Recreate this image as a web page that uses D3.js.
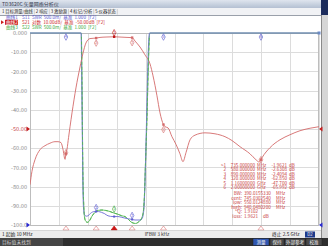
<!DOCTYPE html>
<html><head><meta charset="utf-8">
<script src="https://cdn.jsdelivr.net/npm/d3@7"></script>
<style>body{margin:0;background:#fff;overflow:hidden}svg{display:block}text{font-family:"Noto Sans CJK SC","DejaVu Sans",sans-serif}</style>
</head><body><svg id="c" width="328" height="246"></svg>
<script>
// ---------- data ----------
const startMHz = 10, stopMHz = 2500;
const yTicks = [0,-10,-20,-30,-40,-50,-60,-70,-80,-90,-100];
const yTickLabels = ["0.000","-10.00","-20.00","-30.00","-40.00","-50.00","-60.00","-70.00","-80.00","-90.00","-100.0"];
const xTicks = [10,259,508,757,1006,1255,1504,1753,2002,2251,2500];

// trace 2: S21 log mag (dB)
const s21Freq = [10,27,53,96,139,182,225,251,277,294,312,320,329,342,355,372,406,441,467,492,527,580,613,665,735,785,846,890,915,958,1001,1044,1070,1104,1130,1160,1173,1199,1233,1268,1302,1328,1354,1389,1432,1518,1604,1690,1750,1819,1905,1957,1985,2000,2009,2078,2164,2250,2336,2423,2500];
const s21dB = [-79,-72,-66,-60.8,-58.7,-57.4,-56.6,-56.6,-57.1,-60.5,-65.8,-62.85,-60.5,-54.5,-48.8,-41.6,-28.6,-17.7,-10.4,-5.2,-2.9,-2.63,-2.3,-2.1,-1.96,-2.1,-2.3,-2.41,-4.2,-7.3,-11.4,-16.1,-22.3,-32.7,-41.6,-47.7,-48.8,-49.4,-54,-58,-62.9,-67.0,-62.3,-55.6,-53.2,-52,-52.5,-54,-56,-59.2,-62.9,-66,-67.2,-65.99,-65,-59.7,-55.6,-53,-50.9,-49.6,-48.8];

// trace 1: S11 VSWR (display clamps at top = 6.0)
const s11Freq = [10,450,455,460,465,470,478,484,495,510,530,550,570,600,625,650,682,725,768,800,828,860,880,915,958,975,984,992,1000,1010,1020,1030,1040,2500];
const s11Swr  = [6.0,6.0,5.0,3.6,2.2,1.5,1.28,1.25,1.23,1.24,1.30,1.34,1.35,1.35,1.33,1.30,1.24,1.22,1.22,1.20,1.18,1.16,1.15,1.13,1.13,1.16,1.25,1.45,2.0,3.2,4.5,5.6,6.0,6.0];

// trace 3: S22 VSWR
const s22Freq = [10,452,457,462,467,472,480,490,505,520,544,570,600,630,660,700,725,768,800,828,860,880,900,920,945,965,984,995,1005,1018,1030,1042,2500];
const s22Swr  = [6.0,6.0,5.0,3.4,2.1,1.6,1.2,1.1,1.07,1.1,1.23,1.33,1.38,1.39,1.38,1.35,1.32,1.28,1.24,1.22,1.14,1.08,1.05,1.04,1.08,1.14,1.3,1.7,2.6,3.8,5.2,6.0,6.0];

// markers
const markerIds = [1,2,3,4,5,6];
const markerFreqs = [735,580,890,320,1160,2000];
const markerS21 = [-1.9621,-2.6308,-2.4094,-62.850,-47.700,-65.992];
const markerFreqText = ["735.000000","580.000000","890.000000","320.000000","1.16000000","2.00000000"];
const markerUnits = ["MHz","MHz","MHz","MHz","GHz","GHz"];
const markerValText = ["-1.9621","-2.6308","-2.4094","-62.850","-47.700","-65.992"];
const filterLabels = ["BW:","cent:","low:","high:","Q:","loss:"];
const filterValues = ["390.0155330","745.0302540","550.0124880","940.0480200","1.9102","1.9621"];
const filterUnits = ["MHz","MHz","MHz","MHz","","dB"];

const menuItems = ["1 目标测量/曲线","2 响应","3 激励源","4 标记/分析","5 仪器状态"];
const traceHeaders = [
  {name:"曲线1", text:"S11  SWR  500.0m/  基准  1.000  [F2]", color:"#5a5ad0"},
  {name:"曲线2", text:"S21  对数  10.00dB/  基准  -50.00dB  [F2]", color:"#cc2a2a"},
  {name:"曲线3", text:"S22  SWR  500.0m/  基准  1.000  [F2]", color:"#3aa83a"}
];
const softKeys = ["测量","保持","外部参考","校准"];

// ---------- drawing ----------
const svg = d3.select("#c");
const L = 30, R = 319, T = 33, B = 225;
const x = d3.scaleLinear().domain([startMHz, stopMHz]).range([L, R]);
const yDb = d3.scaleLinear().domain([-100, 0]).range([B, T]);
const ySwr = d3.scaleLinear().domain([1, 6]).range([B, T]).clamp(true);

const RED = "#d46a6a", BLUE = "#7878d8", GREEN = "#52b552";

// title bar
const defs = svg.append("defs");
const g1 = defs.append("linearGradient").attr("id","tb").attr("x1",0).attr("y1",0).attr("x2",0).attr("y2",1);
g1.append("stop").attr("offset","0").attr("stop-color","#dfe5ee");
g1.append("stop").attr("offset","1").attr("stop-color","#b4c0d2");
svg.append("rect").attr("x",0).attr("y",0).attr("width",328).attr("height",8).attr("fill","url(#tb)");
svg.append("text").attr("x",2).attr("y",6).attr("font-size",5).attr("fill","#3a4050").text("TD3620C 矢量网络分析仪");
svg.append("rect").attr("x",0).attr("y",8).attr("width",321).attr("height",7).attr("fill","#f1f2f5");
svg.append("line").attr("x1",0).attr("x2",321).attr("y1",15.5).attr("y2",15.5).attr("stroke","#9aa0aa").attr("stroke-width",1);
let mx0 = 2;
menuItems.forEach((m,i)=>{
  const t = svg.append("text").attr("x",mx0).attr("y",13.3).attr("font-size",4.3).attr("fill","#222").text(m);
  const w = t.node().getComputedTextLength();
  mx0 += w + 3;
  svg.append("line").attr("x1",mx0-1.5).attr("x2",mx0-1.5).attr("y1",9).attr("y2",14.5).attr("stroke","#aaa").attr("stroke-width",0.5);
});
// right strip
svg.append("rect").attr("x",321).attr("y",0).attr("width",7).attr("height",15).attr("fill","#1c2c5c");
svg.append("rect").attr("x",321).attr("y",15).attr("width",7).attr("height",223).attr("fill","#d6d6d6");
svg.append("line").attr("x1",321.5).attr("x2",321.5).attr("y1",15).attr("y2",238).attr("stroke","#8a8a8a").attr("stroke-width",1);

// trace headers
traceHeaders.forEach((h,i)=>{
  const by = 19 + i*5;
  if(i===1){
    svg.append("rect").attr("x",5).attr("y",by-4.2).attr("width",13).attr("height",5).attr("fill","#cc2020");
    svg.append("path").attr("d",`M1,${by-3.8}L4,${by-1.8}L1,${by+0.2}Z`).attr("fill","#cc2020");
  }
  svg.append("text").attr("x",6).attr("y",by).attr("font-size",4.6).attr("fill", i===1?"#fff":h.color).text(h.name);
  svg.append("text").attr("x",22).attr("y",by).attr("font-size",4.6).attr("fill",h.color).attr("xml:space","preserve").style("white-space","pre").text(h.text);
});

// grid
const grid = svg.append("g");
grid.selectAll("line.h").data(yTicks).join("line")
  .attr("x1",L).attr("x2",R).attr("y1",d=>Math.round(yDb(d))+0.5).attr("y2",d=>Math.round(yDb(d))+0.5)
  .attr("stroke","#dcdcdc").attr("stroke-width",1);
grid.selectAll("line.v").data(xTicks).join("line")
  .attr("y1",T).attr("y2",B).attr("x1",d=>Math.round(x(d))+0.5).attr("x2",d=>Math.round(x(d))+0.5)
  .attr("stroke","#dcdcdc").attr("stroke-width",1);
svg.append("rect").attr("x",L+0.5).attr("y",T+0.5).attr("width",R-L-1).attr("height",B-T).attr("fill","none").attr("stroke","#bdbdbd");

// y axis
const yAxis = d3.axisLeft(yDb).tickValues(yTicks).tickSize(0).tickPadding(2)
  .tickFormat((d,i)=>yTickLabels[i]);
const ya = svg.append("g").attr("transform",`translate(${L-1},0)`).call(yAxis);
ya.select(".domain").remove();
ya.selectAll("text").attr("font-size",5.6).attr("font-family","DejaVu Sans").attr("fill",(d)=>d===-50?"#c84a4a":"#8c8c8c");

// reference triangles
function triR(xx,yy,c){svg.append("path").attr("d",`M${xx-3.5},${yy-2.5}L${xx},${yy}L${xx-3.5},${yy+2.5}Z`).attr("fill",c);}
function triL(xx,yy,c){svg.append("path").attr("d",`M${xx+3.5},${yy-2.5}L${xx},${yy}L${xx+3.5},${yy+2.5}Z`).attr("fill",c);}
triR(L,yDb(-50),"#c41e1e"); triL(R,yDb(-50),"#c41e1e");
triR(L,ySwr(1),"#2a2ad0"); triL(R,ySwr(1),"#2a2ad0");
svg.append("rect").attr("x",R-1.5).attr("y",T-1.5).attr("width",3).attr("height",3).attr("fill","#6a8ad0");

// traces
const clip = defs.append("clipPath").attr("id","pc");
clip.append("rect").attr("x",L).attr("y",T-1).attr("width",R-L).attr("height",B-T+2);
const clip2 = defs.append("clipPath").attr("id","pc2");
clip2.append("rect").attr("x",L).attr("y",T+3).attr("width",R-L).attr("height",B-T);
const tr = svg.append("g").attr("clip-path","url(#pc)");
const lineDb = d3.line().x(d=>x(d[0])).y(d=>yDb(d[1])).curve(d3.curveMonotoneX);
const lineSwr = d3.line().x(d=>x(d[0])).y(d=>ySwr(d[1])).curve(d3.curveMonotoneX);
const s11 = s11Freq.map((f,i)=>[f,s11Swr[i]]);
const s22 = s22Freq.map((f,i)=>[f,s22Swr[i]]);
const s21 = s21Freq.map((f,i)=>[f,s21dB[i]]);
tr.append("path").datum(s22).attr("d",lineSwr).attr("fill","none").attr("stroke",GREEN).attr("stroke-width",0.9);
tr.append("path").datum(s11).attr("d",lineSwr).attr("fill","none").attr("stroke",BLUE).attr("stroke-width",1);
svg.append("g").attr("clip-path","url(#pc2)").append("path").datum(s22).attr("d",lineSwr).attr("fill","none")
  .attr("stroke",GREEN).attr("stroke-width",0.9).attr("stroke-dasharray","3,2");
tr.append("path").datum(s21).attr("d",lineDb).attr("fill","none").attr("stroke",RED).attr("stroke-width",0.9);

// marker helpers
function interp(fs,vs,f){ const i = d3.bisectLeft(fs,f); if(i<=0) return vs[0]; if(i>=fs.length) return vs[vs.length-1];
  const t=(f-fs[i-1])/(fs[i]-fs[i-1]); return vs[i-1]+t*(vs[i]-vs[i-1]); }
function glyph(xx,cy,id,c){
  svg.append("path").attr("d",`M${xx},${cy-3.3}L${xx+1.8},${cy}L${xx},${cy+3.3}L${xx-1.8},${cy}Z`).attr("fill","none").attr("stroke",c).attr("stroke-width",0.6);
  svg.append("text").attr("x",xx).attr("y",cy+1.2).attr("text-anchor","middle").attr("font-size",3.4).attr("font-family","DejaVu Sans").attr("fill",c).text(id);
}
const redGlyphDy = [-4,5,5,-1,5,0];
markerIds.forEach((id,i)=>{
  const mx = x(markerFreqs[i]), my = yDb(markerS21[i]);
  svg.append("rect").attr("x",mx-1.2).attr("y",my-1.2).attr("width",2.4).attr("height",2.4).attr("fill",i===0?"#c01818":RED);
  glyph(mx, my+redGlyphDy[i], id, i===0?"#c01818":RED);
  const vb = interp(s11Freq,s11Swr,markerFreqs[i]);
  const vg = interp(s22Freq,s22Swr,markerFreqs[i]);
  const yb = ySwr(vb), yg = ySwr(vg);
  if(vb>=6){ glyph(mx, T+4, id, "#5a5ad0"); }
  else { glyph(mx, Math.min(yb,yg)-4, id, i===0?"#3aa83a":"#5a5ad0");
    svg.append("rect").attr("x",mx-1).attr("y",yb-1).attr("width",2).attr("height",2).attr("fill","#5a5ad0"); }
  // stimulus triangles at bottom
  svg.append("path").attr("d",`M${mx-3},${B+5}L${mx},${B+1}L${mx+3},${B+5}Z`)
    .attr("fill",i===0?"#c81818":"#fff").attr("stroke",i===0?"#c81818":"#e08a8a").attr("stroke-width",0.7);
});

// marker table
const tbl = svg.append("g").attr("font-family","DejaVu Sans Mono").attr("font-size",4.6).attr("fill","#c83c3c");
markerIds.forEach((id,i)=>{
  const by = 166.6 + i*4.5;
  tbl.append("text").attr("x",226).attr("y",by).attr("text-anchor","end").text((i===0?">":"")+id);
  tbl.append("text").attr("x",255).attr("y",by).attr("text-anchor","end").text(markerFreqText[i]);
  tbl.append("text").attr("x",257).attr("y",by).text(markerUnits[i]);
  tbl.append("text").attr("x",287).attr("y",by).attr("text-anchor","end").text(markerValText[i]);
  tbl.append("text").attr("x",289).attr("y",by).text("dB");
});
filterLabels.forEach((lb,i)=>{
  const by = 195 + i*4.5;
  tbl.append("text").attr("x",242).attr("y",by).attr("text-anchor","end").text(lb);
  tbl.append("text").attr("x",244).attr("y",by).text(filterValues[i]);
  if(filterUnits[i]) tbl.append("text").attr("x", i===5?263:276).attr("y",by).text(filterUnits[i]);
});

// status row
svg.append("rect").attr("x",0).attr("y",231).attr("width",321).attr("height",7).attr("fill","#ececec");
svg.append("line").attr("x1",0).attr("x2",321).attr("y1",230.5).attr("y2",230.5).attr("stroke","#bbb").attr("stroke-width",0.6);
svg.append("text").attr("x",2).attr("y",236.3).attr("font-size",4.8).attr("fill","#222").text("1  起始 10 MHz");
svg.append("text").attr("x",157).attr("y",236.3).attr("font-size",4.8).attr("text-anchor","middle").attr("fill","#333").text("IFBW 3 kHz");
svg.append("text").attr("x",272).attr("y",236.3).attr("font-size",4.8).attr("fill","#222").text("终止 2.5 GHz");
svg.append("rect").attr("x",305).attr("y",231.5).attr("width",10).attr("height",6).attr("fill","#1e3a8a");
svg.append("text").attr("x",310).attr("y",236.3).attr("font-size",4.4).attr("text-anchor","middle").attr("fill","#fff").text("D2");

// bottom bar
svg.append("rect").attr("x",0).attr("y",238).attr("width",328).attr("height",8).attr("fill","#2e2e2e");
svg.append("rect").attr("x",0).attr("y",238).attr("width",63).attr("height",8).attr("fill","#454545");
svg.append("text").attr("x",2).attr("y",244.3).attr("font-size",4.8).attr("fill","#d8d8d8").text("目标值未找到");
const skX = [253,270,285,306], skW = [16,14,20,16];
softKeys.forEach((k,i)=>{
  svg.append("rect").attr("x",skX[i]).attr("y",238.5).attr("width",skW[i]).attr("height",7).attr("fill",i===0?"#2f56b0":"#4a4a4a").attr("stroke","#222").attr("stroke-width",0.5);
  svg.append("text").attr("x",skX[i]+skW[i]/2).attr("y",244.2).attr("text-anchor","middle").attr("font-size",4.6).attr("fill","#eee").text(k);
});
</script></body></html>
